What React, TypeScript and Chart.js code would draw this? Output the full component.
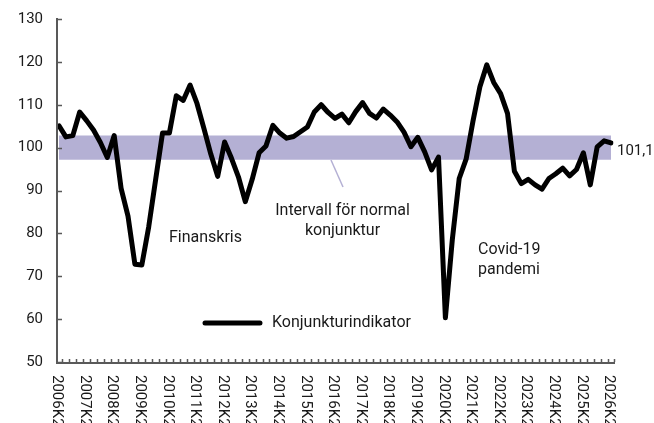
import React, { useEffect, useRef } from "react";
import { Chart, registerables } from "chart.js";

Chart.register(...registerables);

// Quarterly categories 2006K2 .. 2026K2
const firstYear = 2006;
const lastYear = 2026;
const categories: string[] = [];
for (let yr = firstYear; yr <= lastYear; yr++) {
  for (const q of [1, 2, 3, 4]) {
    if (yr === firstYear && q < 2) continue;
    if (yr === lastYear && q > 2) continue;
    categories.push(`${yr}K${q}`);
  }
}

const konjunkturindikator: number[] = [
  105.1, 102.5, 102.8, 108.3, 106.3, 104.1, 101.2, 97.7, 102.8, 90.5,
  84.0, 72.8, 72.6, 81.5, 92.5, 103.4, 103.4, 112.1, 111.0, 114.6,
  110.3, 104.5, 98.5, 93.3, 101.3, 97.5, 93.2, 87.4, 92.6, 98.8,
  100.4, 105.2, 103.4, 102.2, 102.6, 103.7, 104.8, 108.3, 110.0, 108.2,
  106.8, 107.8, 105.8, 108.4, 110.5, 108.0, 106.9, 109.0, 107.6, 106.0,
  103.6, 100.2, 102.4, 99.0, 94.8, 97.8, 60.3, 78.5, 92.8, 97.3,
  106.2, 114.2, 119.3, 115.2, 112.6, 108.0, 94.5, 91.6, 92.6, 91.3,
  90.3, 92.8, 93.9, 95.2, 93.4, 94.9, 98.8, 91.3, 100.2, 101.6,
  101.1,
];

const normalHigh = 102.8;
const normalLow = 97.2;
const yMin = 50;
const yMax = 130;
const yStep = 10;
const lastValueLabel = "101,1";
const seriesName = "Konjunkturindikator";

const FONT = "Roboto, 'Open Sans', sans-serif";
const TEXT = "#1a1a1a";
const AXIS = "#595959";
const BAND = "rgb(180,176,212)";

const overlay = {
  id: "overlay",
  afterDatasetsDraw(chart: any) {
    const { ctx, chartArea, scales } = chart;
    const x = scales.x;
    const y = scales.y;
    const px = (i: number) => x.getPixelForValue(i);
    const py = (v: number) => y.getPixelForValue(v);
    ctx.save();

    // axes
    const axisX = chartArea.left - 2;
    ctx.strokeStyle = AXIS;
    ctx.lineWidth = 2;
    ctx.beginPath();
    ctx.moveTo(axisX, py(yMax) - 1);
    ctx.lineTo(axisX, chartArea.bottom + 1);
    ctx.lineTo(px(categories.length - 1) + 4, chartArea.bottom + 1);
    ctx.stroke();

    ctx.lineWidth = 1.5;
    ctx.beginPath();
    for (let v = yMin; v <= yMax; v += yStep) {
      const yy = Math.round(py(v)) + 0.5;
      ctx.moveTo(axisX, yy);
      ctx.lineTo(axisX + 5, yy);
    }
    for (let i = 0; i < categories.length; i++) {
      const xx = Math.round(px(i + 0.5)) + 0.5;
      ctx.moveTo(xx, chartArea.bottom);
      ctx.lineTo(xx, chartArea.bottom - 3);
    }
    ctx.stroke();

    // x labels (rotated, reading top to bottom)
    ctx.fillStyle = TEXT;
    ctx.font = `15px ${FONT}`;
    ctx.textAlign = "left";
    ctx.textBaseline = "middle";
    categories.forEach((c, i) => {
      if (i % 4 !== 0) return;
      ctx.save();
      ctx.translate(px(i) - 2, chartArea.bottom + 13);
      ctx.rotate(Math.PI / 2);
      ctx.fillText(c, 0, 0);
      ctx.restore();
    });

    // leader line for the interval annotation
    ctx.strokeStyle = BAND;
    ctx.lineWidth = 1.5;
    ctx.beginPath();
    ctx.moveTo(px(39.42), py(97.11));
    ctx.lineTo(px(41.16), py(90.82));
    ctx.stroke();

    // annotations
    ctx.fillStyle = TEXT;
    ctx.font = `16px ${FONT}`;
    ctx.textAlign = "center";
    ctx.fillText("Finanskris", px(21.23), py(78.92));
    ctx.fillText("Intervall för normal", px(41.09), py(85.22));
    ctx.fillText("konjunktur", px(41.09), py(80.55));
    ctx.textAlign = "left";
    ctx.fillText("Covid-19", px(60.72), py(76.12));
    ctx.fillText("pandemi", px(60.72), py(71.46));

    // last value label
    ctx.font = `15px ${FONT}`;
    const lastIdx = konjunkturindikator.length - 1;
    ctx.fillText(lastValueLabel, px(lastIdx) + 6, py(konjunkturindikator[lastIdx]) + 8);

    // legend
    ctx.font = `16px ${FONT}`;
    ctx.strokeStyle = "#000";
    ctx.lineWidth = 5;
    ctx.lineCap = "round";
    ctx.beginPath();
    ctx.moveTo(px(21.16), py(59.1));
    ctx.lineTo(px(29.13), py(59.1));
    ctx.stroke();
    ctx.fillText(seriesName, px(30.87), py(59.1));

    ctx.restore();
  },
};

export default function App() {
  const ref = useRef<HTMLCanvasElement | null>(null);

  useEffect(() => {
    if (!ref.current) return;
    const chart = new Chart(ref.current, {
      type: "line",
      data: {
        labels: categories,
        datasets: [
          {
            label: seriesName,
            data: konjunkturindikator,
            borderColor: "#000",
            borderWidth: 5,
            borderJoinStyle: "round",
            borderCapStyle: "round",
            pointRadius: 0,
            tension: 0,
            fill: false,
            order: 0,
          },
          {
            label: "high",
            data: categories.map(() => normalHigh),
            borderWidth: 0,
            pointRadius: 0,
            backgroundColor: BAND,
            fill: "+1",
            order: 2,
          },
          {
            label: "low",
            data: categories.map(() => normalLow),
            borderWidth: 0,
            pointRadius: 0,
            fill: false,
            order: 3,
          },
        ],
      },
      options: {
        animation: false,
        responsive: false,
        devicePixelRatio: 1,
        layout: { padding: { top: 19, right: 43, left: 0, bottom: 0 } },
        plugins: {
          legend: { display: false },
          tooltip: { enabled: false },
        },
        scales: {
          x: {
            type: "category",
            offset: false,
            grid: { display: false },
            border: { display: false },
            ticks: { display: false },
            afterFit: (s: any) => {
              s.height = 61;
            },
          },
          y: {
            min: yMin,
            max: yMax,
            grid: { display: false },
            border: { display: false },
            ticks: {
              stepSize: yStep,
              padding: 8,
              color: TEXT,
              font: { family: FONT, size: 15 },
            },
            afterFit: (s: any) => {
              s.width = 59;
            },
          },
        },
      },
      plugins: [overlay],
    } as any);
    return () => chart.destroy();
  }, []);

  return (
    <div style={{ position: "fixed", left: 0, top: 0, width: 654, height: 423, background: "#fff" }}>
      <canvas ref={ref} width={654} height={423} style={{ display: "block" }} />
    </div>
  );
}
